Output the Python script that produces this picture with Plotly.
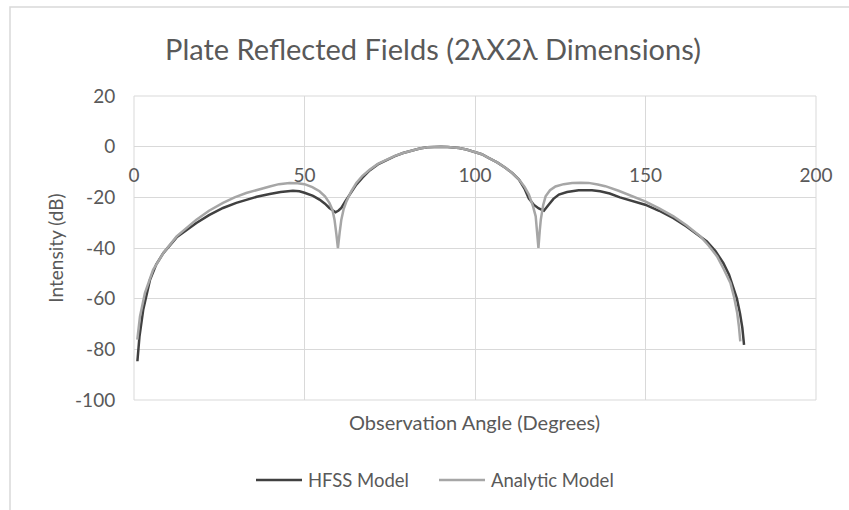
import plotly.graph_objects as go

# ---- data ----
hfss_angle = [1.0, 1.6, 2.7, 4.7, 6.5, 8.6, 12.5, 18.3, 22, 26.1, 30, 32.9, 36, 39.8, 43, 46.6, 48.5, 50,
              52.5, 54.4, 56, 57.3, 58.4, 59.1, 60, 60.8, 62, 63.3, 65.2, 67, 69.1, 71.5, 74, 76.5, 78.9,
              81.5, 83.8, 86, 88, 90, 92, 95.3, 97.5, 99.7, 102, 104.1, 106.5, 109, 111, 112.9, 114.5,
              115.8, 117.3, 118.7, 120.2, 121.6, 123, 124.6, 127, 130.4, 134.3, 136.7, 139.5, 142.5, 146,
              149.9, 154, 158.2, 162, 165, 168, 170.5, 172.8, 174.5, 175.7, 176.8, 177.7, 178.4, 178.9]
hfss_db = [-84.7, -75, -64.4, -52.5, -46.5, -42, -35.8, -30.1, -27, -24.2, -22.2, -20.9, -19.8, -18.7, -17.9,
           -17.4, -17.6, -18.2, -19.4, -20.9, -22.5, -24.2, -25.4, -25.9, -25.2, -24.2, -21.5, -18.9, -15,
           -12.2, -9.4, -7.0, -5.2, -3.7, -2.5, -1.4, -0.7, -0.2, 0, 0, -0.1, -0.5, -1.1, -1.9, -3.0, -4.5,
           -6.2, -8.4, -10.5, -13, -16.5, -20.5, -23, -24.4, -25.3, -22.9, -20.6, -18.9, -17.9, -17.2, -17.2,
           -17.6, -18.5, -20.0, -21.5, -22.9, -25.3, -28.2, -31.5, -34.5, -37.4, -41.2, -45.9, -50.5, -55.2,
           -60, -65.7, -71.5, -78.2]

analytic_angle = [0.97, 1.75, 3.2, 5.6, 8.6, 12.5, 18.3, 22, 26.1, 29.5, 32.9, 36.5, 39.8, 42.5, 45.6, 48, 50,
                  52.3, 54.4, 56, 57.3, 58.2, 58.8, 59.3, 59.8, 60.3, 60.8, 61.5, 62.3, 63.7, 65.2, 67, 69.1,
                  71.5, 74, 76.5, 78.9, 81.5, 83.8, 86, 88, 90, 92, 95.3, 97.5, 99.7, 102, 104.1, 106.5, 109,
                  111, 112.9, 114.5, 115.8, 117, 117.8, 118.2, 118.6, 119.0, 119.3, 120, 120.7, 122, 123.6,
                  126, 128.5, 131, 133.3, 136, 138.2, 142.1, 146, 149.9, 154, 158.2, 162, 166.1, 168.5, 171,
                  173, 174.9, 176, 176.9, 177.4, 177.8]
analytic_db = [-76.2, -67, -57.8, -48.6, -42, -35.4, -28.8, -25.3, -22.2, -20, -18.3, -16.8, -15.7, -14.8,
               -14.3, -14.4, -14.8, -16, -17.6, -19.6, -22.2, -25, -28.8, -34, -40, -34, -28.8, -24.5, -21.6,
               -17.6, -14.3, -11.5, -9.1, -6.8, -5.1, -3.6, -2.5, -1.4, -0.7, -0.2, 0, 0, -0.1, -0.5, -1.1,
               -1.9, -3.0, -4.5, -6.2, -8.4, -10.5, -13, -15.8, -18.9, -23.5, -27.5, -33, -40, -33, -28.8,
               -23, -19.6, -17.2, -15.7, -14.8, -14.3, -14.2, -14.3, -14.9, -15.6, -17.4, -19.5, -21.6,
               -24.4, -27.5, -31, -35.4, -39, -43.3, -48.5, -53.8, -59.5, -65.7, -71, -76.9]

x_ticks = [0, 50, 100, 150, 200]
x_tick_labels = ["0", "50", "100", "150", "200"]
y_ticks = [20, 0, -20, -40, -60, -80, -100]
y_tick_labels = ["20", "0", "-20", "-40", "-60", "-80", "-100"]
series_names = ["HFSS Model", "Analytic Model"]
series_colors = ["#404040", "#a6a6a6"]

TXT = "#595959"
GRID = "#d9d9d9"
FONT = "Lato"

fig = go.Figure()
fig.add_trace(go.Scatter(x=hfss_angle, y=hfss_db, mode="lines", name=series_names[0],
                         line=dict(color=series_colors[0], width=2.5), showlegend=False))
fig.add_trace(go.Scatter(x=analytic_angle, y=analytic_db, mode="lines", name=series_names[1],
                         line=dict(color=series_colors[1], width=2.5), showlegend=False))

L, R, T, B = 134, 33, 96, 110
W, H = 849, 510
pw, ph = W - L - R, H - T - B


def px(xp):
    return (xp - L) / pw


def py(yp):
    return (H - B - yp) / ph


fig.update_layout(
    width=W, height=H,
    margin=dict(l=L, r=R, t=T, b=B),
    paper_bgcolor="white", plot_bgcolor="white",
    font=dict(family=FONT, color=TXT, size=19),
    title=dict(text="Plate Reflected Fields (2λX2λ Dimensions)", x=433 / W, xanchor="center",
               y=1 - 50 / H, yanchor="middle", font=dict(size=29, color=TXT, family=FONT)),
    showlegend=False,
    xaxis=dict(range=[0, 200], tickvals=x_ticks, ticktext=x_tick_labels, showgrid=True, gridcolor=GRID,
               gridwidth=1, zeroline=False, showline=False, anchor="free", position=100 / 120,
               ticks="outside", ticklen=12, tickcolor="rgba(0,0,0,0)",
               tickfont=dict(size=19, color=TXT, family=FONT)),
    yaxis=dict(range=[-100, 20], tickvals=y_ticks, ticktext=y_tick_labels, showgrid=True, gridcolor=GRID,
               gridwidth=1, zeroline=False, showline=False, ticks="outside", ticklen=14,
               tickcolor="rgba(0,0,0,0)", tickfont=dict(size=19, color=TXT, family=FONT),
               title=dict(text="Intensity (dB)", font=dict(size=19, color=TXT, family=FONT), standoff=6)),
)

# x-axis title as annotation (tick labels sit on the zero line)
fig.add_annotation(text="Observation Angle (Degrees)", xref="paper", yref="paper",
                   x=px((339 + 610) / 2), y=py(422), xanchor="center", yanchor="middle",
                   showarrow=False, font=dict(size=20, color=TXT, family=FONT))

# legend drawn manually (Excel-style long line samples)
legend_line_x = [(256, 302), (439, 485)]
for (x0, x1), name, col in zip(legend_line_x, series_names, series_colors):
    fig.add_shape(type="line", xref="paper", yref="paper", x0=px(x0), x1=px(x1), y0=py(480), y1=py(480),
                  line=dict(color=col, width=2.5))
    fig.add_annotation(text=name, xref="paper", yref="paper", x=px(x1 + 4), y=py(480),
                       xanchor="left", yanchor="middle", showarrow=False,
                       font=dict(size=18.5, color=TXT, family=FONT))

# plot-area frame (edge gridlines)
fig.add_shape(type="rect", xref="paper", yref="paper", x0=0, x1=1, y0=0, y1=1,
              line=dict(color=GRID, width=1), fillcolor="rgba(0,0,0,0)", layer="below")

# outer chart border
fig.add_shape(type="rect", xref="paper", yref="paper",
              x0=px(10), x1=px(W + 20), y0=py(H + 20), y1=py(7),
              line=dict(color="#d9d9d9", width=1.5), fillcolor="rgba(0,0,0,0)", layer="below")

fig.write_html("out.html")
